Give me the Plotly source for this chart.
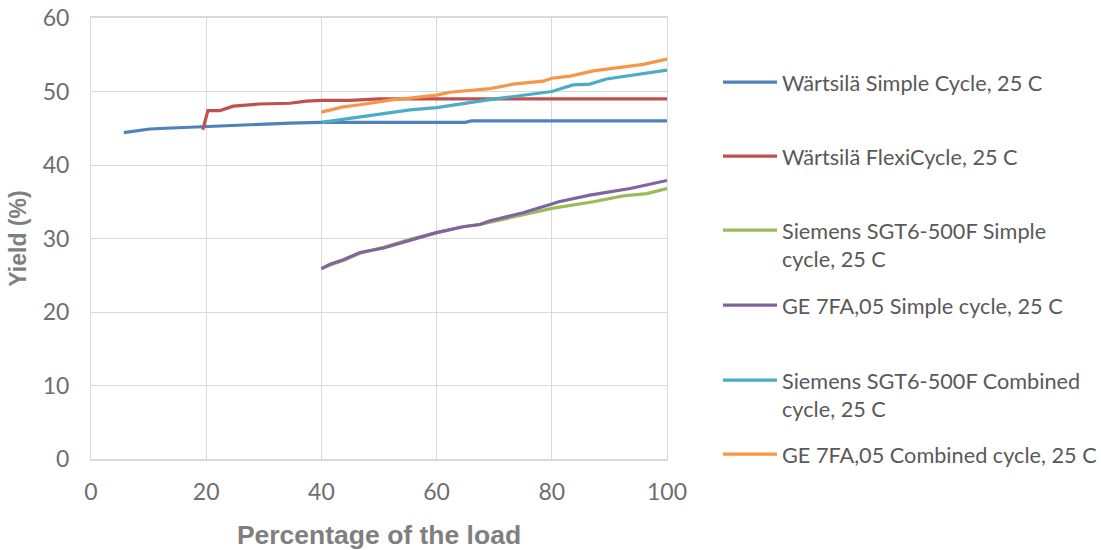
import plotly.graph_objects as go

# ---- data ----
wsc_x = [5.7, 8, 10.2, 13, 16, 19.4, 23, 26.4, 30, 34.5, 40, 50, 60, 65, 66, 80, 100]
wsc_y = [44.4, 44.7, 44.9, 45.0, 45.1, 45.2, 45.3, 45.5, 45.6, 45.7, 45.8, 45.8, 45.8, 45.8, 46.0, 46.0, 46.0]

wfc_x = [19.4, 20.3, 22.4, 24.7, 29.3, 34.5, 37.4, 40, 45, 50, 60, 70, 80, 100]
wfc_y = [44.8, 47.4, 47.4, 48.0, 48.3, 48.4, 48.7, 48.8, 48.8, 49.0, 49.0, 49.0, 49.0, 49.0]

sss_x = [40, 41.5, 43.8, 46.7, 50.8, 55.4, 60, 64.6, 67.5, 75, 80, 87.2, 92.4, 96.5, 100]
sss_y = [25.9, 26.4, 27.0, 28.0, 28.8, 29.9, 30.8, 31.6, 31.9, 33.2, 34.1, 35.0, 35.8, 36.1, 36.8]

ges_x = [40, 41.5, 43.8, 46.7, 50.8, 55.4, 60, 64.6, 67.5, 69.3, 75, 80, 81.2, 86.6, 93.6, 100]
ges_y = [25.9, 26.5, 27.1, 28.1, 28.7, 29.8, 30.8, 31.6, 31.9, 32.4, 33.5, 34.7, 35.0, 35.9, 36.8, 37.9]

ssc_x = [40, 43.8, 46.7, 49.6, 55.4, 60, 62.3, 67.5, 69.3, 73.3, 80, 83.7, 86.6, 89.5, 93.6, 100]
ssc_y = [45.8, 46.2, 46.6, 46.9, 47.5, 47.8, 48.1, 48.7, 48.9, 49.3, 50.0, 50.9, 51.0, 51.7, 52.2, 52.9]

gec_x = [40, 43.8, 46.7, 49.6, 52.5, 55.4, 60, 62.3, 67.5, 69.3, 73.3, 78.5, 80, 83.2, 87.2, 91.8, 95.9, 100]
gec_y = [47.2, 47.9, 48.2, 48.6, 48.9, 49.1, 49.5, 49.9, 50.2, 50.4, 51.0, 51.4, 51.8, 52.1, 52.8, 53.3, 53.7, 54.4]

names = [
    "Wärtsilä Simple Cycle, 25 C",
    "Wärtsilä FlexiCycle, 25 C",
    "Siemens SGT6-500F Simple<br>cycle, 25 C",
    "GE 7FA,05 Simple cycle, 25 C",
    "Siemens SGT6-500F Combined<br>cycle, 25 C",
    "GE 7FA,05 Combined cycle, 25 C",
]
colors = ["#4F81BD", "#C0504D", "#9BBB59", "#8064A2", "#4BACC6", "#F79646"]
xs = [wsc_x, wfc_x, sss_x, ges_x, ssc_x, gec_x]
ys = [wsc_y, wfc_y, sss_y, ges_y, ssc_y, gec_y]

# ---- geometry ----
W, H = 1101, 550
L, R, T, B = 91, 434, 18, 91
legend_tops = [61.5, 135.5, 209.5, 284.5, 359.5, 433.5]

fig = go.Figure()
legend_layouts = {}
for i, (x, y, n, c) in enumerate(zip(xs, ys, names, colors)):
    key = "legend" if i == 0 else f"legend{i+1}"
    fig.add_trace(go.Scatter(x=x, y=y, name=n, mode="lines",
                             line=dict(color=c, width=3.2), legend=key))
    legend_layouts[key] = dict(
        xref="container", yref="container",
        x=718 / W, y=1 - legend_tops[i] / H,
        xanchor="left", yanchor="top", valign="top",
        bgcolor="rgba(0,0,0,0)", borderwidth=0, itemwidth=54,
        font=dict(family="Lato, Calibri, sans-serif", size=21.7, color="#595959"),
    )

fig.update_layout(
    width=W, height=H,
    margin=dict(l=L, r=R, t=T, b=B, pad=0),
    paper_bgcolor="white", plot_bgcolor="white",
    showlegend=True,
    **legend_layouts,
)
fig.update_xaxes(
    range=[0, 100], tickvals=[0, 20, 40, 60, 80, 100],
    showgrid=True, gridcolor="#D9D9D9", gridwidth=1,
    showline=True, linecolor="#D9D9D9", linewidth=2, mirror=True,
    zeroline=False, ticks="", ticklabelstandoff=11, automargin=False,
    tickfont=dict(family="Lato, Calibri, sans-serif", size=23, color="#6E6E6E"),
    title=dict(text="<b>Percentage of the load</b>", standoff=23,
               font=dict(family="Liberation Sans, Arial, sans-serif", size=26.5, color="#7F7F7F")),
)
fig.update_yaxes(
    range=[0, 60], tickvals=[0, 10, 20, 30, 40, 50, 60],
    showgrid=True, gridcolor="#D9D9D9", gridwidth=1,
    showline=True, linecolor="#D9D9D9", linewidth=1, mirror=True,
    zeroline=False, ticks="", ticklabelstandoff=16, automargin=False,
    tickfont=dict(family="Lato, Calibri, sans-serif", size=23, color="#6E6E6E"),
    title=dict(text="<b>Yield (%)</b>", standoff=9,
               font=dict(family="Liberation Sans, Arial, sans-serif", size=23, color="#7F7F7F")),
)

fig.write_html("out.html")
